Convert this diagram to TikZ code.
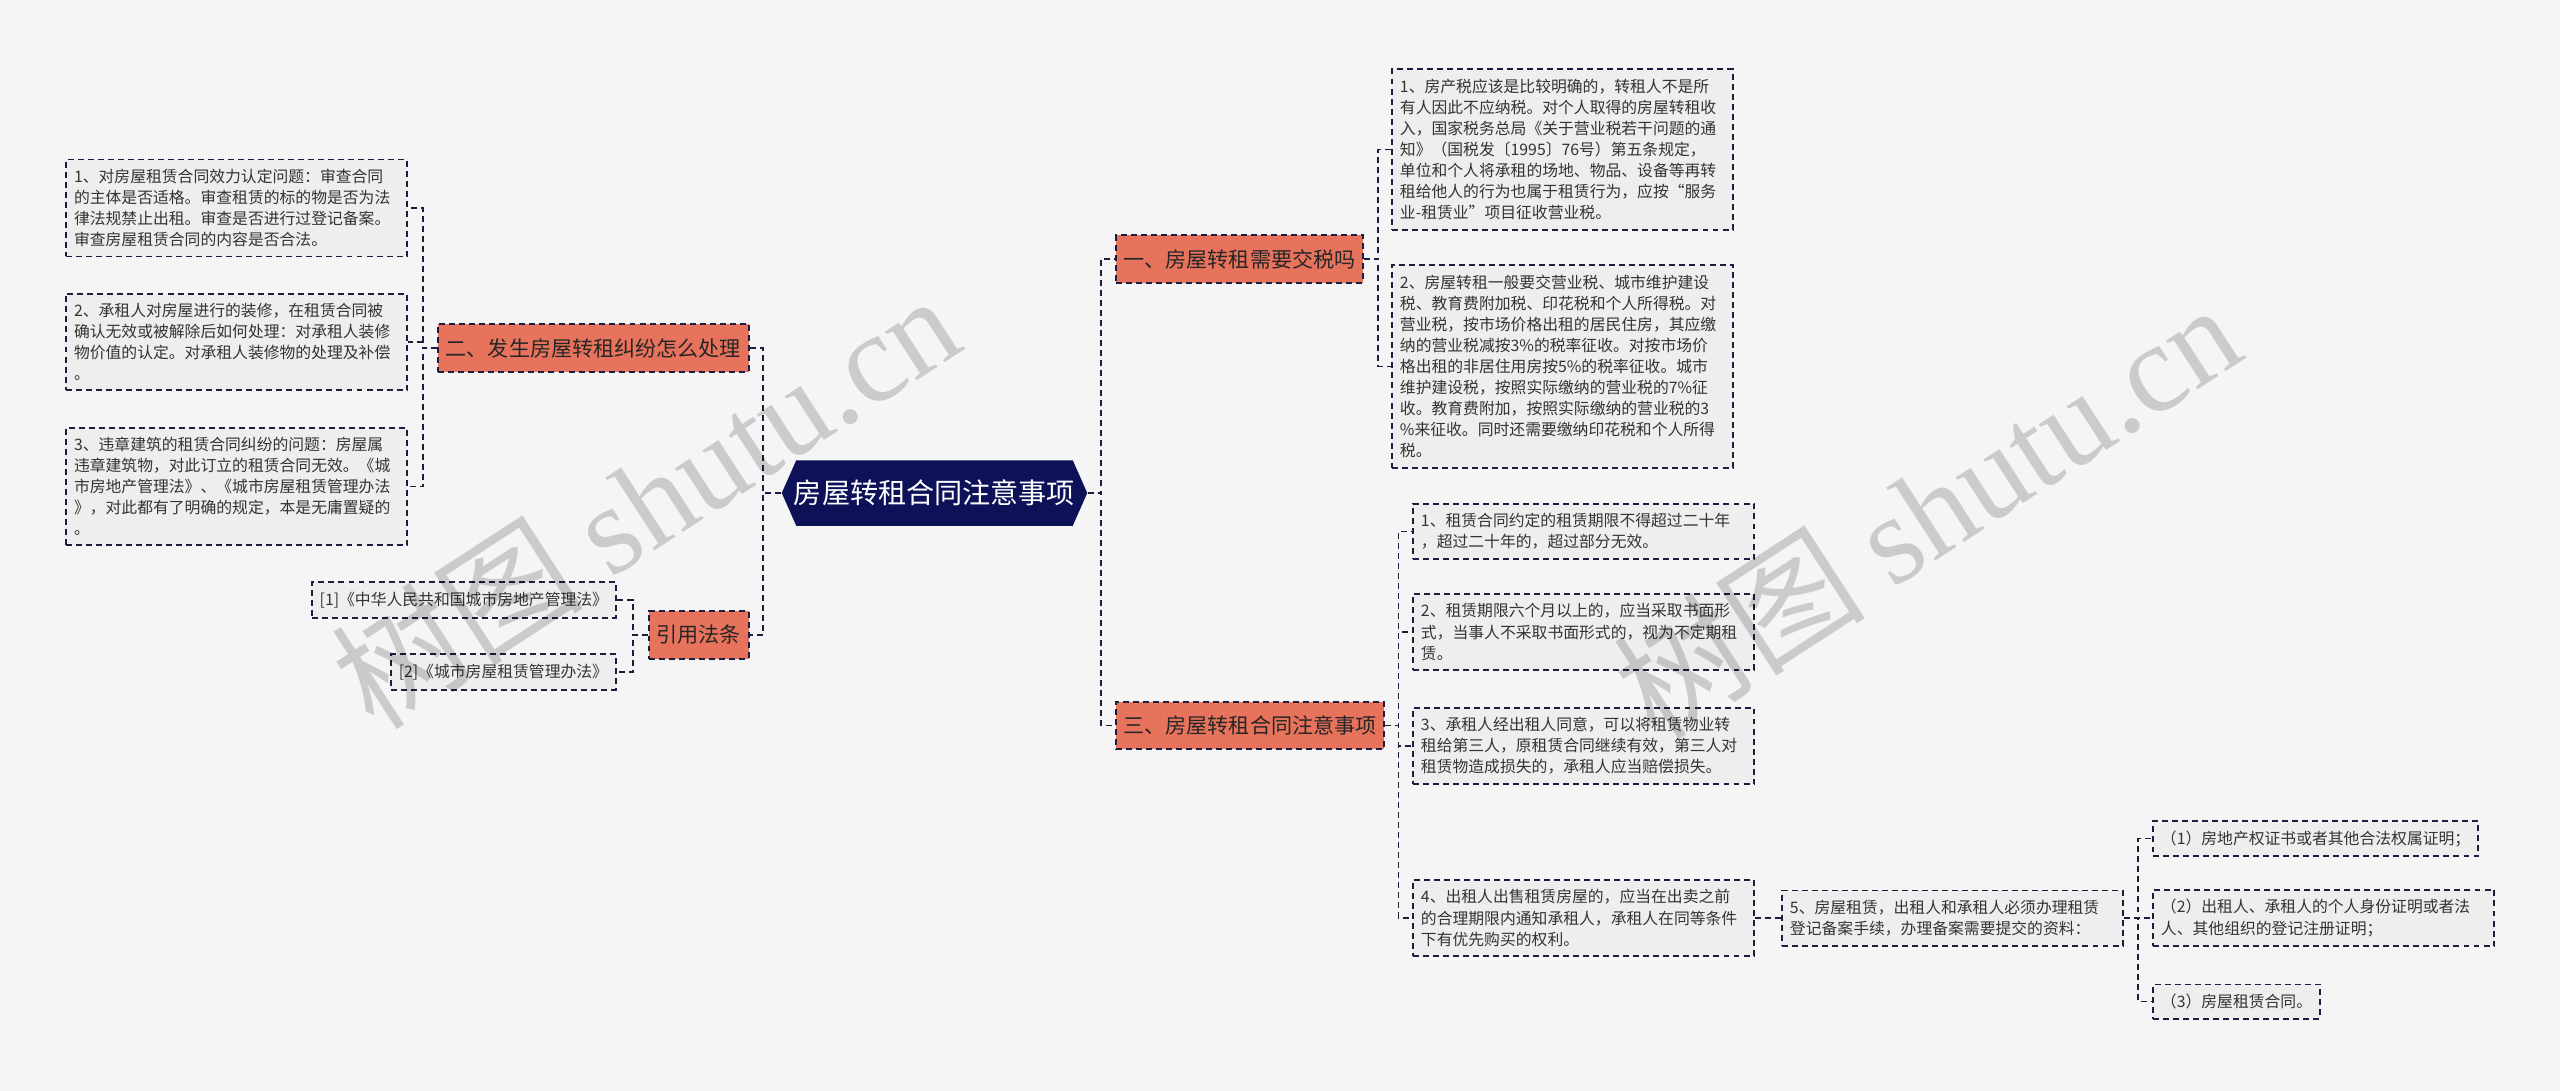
\documentclass[tikz,border=0pt]{standalone}
\usepackage{fontspec}
\setmainfont{Noto Sans CJK SC}
\newfontfamily\wmfont{Liberation Serif}
\usetikzlibrary{calc}
\usepackage{xcolor}

\definecolor{pagebg}{HTML}{F5F5F5}
\definecolor{navy}{HTML}{0D1158}
\definecolor{salmon}{HTML}{E8735C}
\definecolor{leafgray}{HTML}{EEEEEE}
\definecolor{linecol}{HTML}{1C1D3F}
\definecolor{txtgray}{HTML}{333333}

\begin{document}
\begin{tikzpicture}[
    every node/.style={inner sep=0pt},
    dashline/.style={draw=linecol, line width=1.1pt, dash pattern=on 3.4pt off 2.3pt},
    leaf/.style={dashline, fill=leafgray, text=txtgray, font=\fontsize{9}{12}\selectfont,
                 align=left, inner xsep=0.16cm, inner ysep=0.19cm},
    leafw/.style={leaf, text width=6.5cm},
    branch/.style={dashline, fill=salmon, text=black!85, font=\fontsize{12}{14}\selectfont,
                   inner xsep=0.15cm, minimum height=0.95cm},
    link/.style={dashline}
  ]
  \useasboundingbox (0,0) rectangle (51.2,-21.82);
  \fill[pagebg] (0,0) rectangle (51.2,-21.82);

  % central topic
  \fill[navy] (15.635,-9.86) -- (15.925,-9.205) -- (21.455,-9.205) -- (21.745,-9.86)
    -- (21.455,-10.515) -- (15.925,-10.515) -- cycle;
  \node[minimum width=6.11cm, minimum height=1.31cm, text=white,
        font=\fontsize{16}{18}\selectfont] (root) at (18.69,-9.86) {房屋转租合同注意事项};

  % main branches
  \node[branch, anchor=west] (b1) at (22.30,-5.18) {一、房屋转租需要交税吗};
  \node[branch, anchor=west] (b3) at (22.30,-14.51) {三、房屋转租合同注意事项};
  \node[branch, anchor=east] (b2) at (14.99,-6.96) {二、发生房屋转租纠纷怎么处理};
  \node[branch, anchor=east] (b4) at (14.99,-12.70) {引用法条};

  % left side leaves
  \node[leafw, anchor=east] (l1) at (8.16,-4.16) {1、对房屋租赁合同效力认定问题：审查合同\\的主体是否适格。审查租赁的标的物是否为法\\律法规禁止出租。审查是否进行过登记备案。\\审查房屋租赁合同的内容是否合法。};
  \node[leafw, anchor=east] (l2) at (8.16,-6.84) {2、承租人对房屋进行的装修，在租赁合同被\\确认无效或被解除后如何处理：对承租人装修\\物价值的认定。对承租人装修物的处理及补偿\\。};
  \node[leafw, anchor=east] (l3) at (8.16,-9.73) {3、违章建筑的租赁合同纠纷的问题：房屋属\\违章建筑物，对此订立的租赁合同无效。《城\\市房地产管理法》、《城市房屋租赁管理办法\\》，对此都有了明确的规定，本是无庸置疑的\\。};
  \node[leaf, anchor=east] (r1) at (12.34,-12.0) {[1]《中华人民共和国城市房地产管理法》};
  \node[leaf, anchor=east] (r2) at (12.34,-13.44) {[2]《城市房屋租赁管理办法》};

  % tax leaves
  \node[leafw, anchor=west] (t1) at (27.82,-2.99) {1、房产税应该是比较明确的，转租人不是所\\有人因此不应纳税。对个人取得的房屋转租收\\入，国家税务总局《关于营业税若干问题的通\\知》（国税发〔1995〕76号）第五条规定，\\单位和个人将承租的场地、物品、设备等再转\\租给他人的行为也属于租赁行为，应按“服务\\业-租赁业”项目征收营业税。};
  \node[leafw, anchor=west] (t2) at (27.82,-7.33) {2、房屋转租一般要交营业税、城市维护建设\\税、教育费附加税、印花税和个人所得税。对\\营业税，按市场价格出租的居民住房，其应缴\\纳的营业税减按3\%的税率征收。对按市场价\\格出租的非居住用房按5\%的税率征收。城市\\维护建设税，按照实际缴纳的营业税的7\%征\\收。教育费附加，按照实际缴纳的营业税的3\\\%来征收。同时还需要缴纳印花税和个人所得\\税。};

  % contract leaves
  \node[leafw, anchor=west] (c1) at (28.24,-10.63) {1、租赁合同约定的租赁期限不得超过二十年\\，超过二十年的，超过部分无效。};
  \node[leafw, anchor=west] (c2) at (28.24,-12.64) {2、租赁期限六个月以上的，应当采取书面形\\式，当事人不采取书面形式的，视为不定期租\\赁。};
  \node[leafw, anchor=west] (c3) at (28.24,-14.92) {3、承租人经出租人同意，可以将租赁物业转\\租给第三人，原租赁合同继续有效，第三人对\\租赁物造成损失的，承租人应当赔偿损失。};
  \node[leafw, anchor=west] (c4) at (28.24,-18.36) {4、出租人出售租赁房屋的，应当在出卖之前\\的合理期限内通知承租人，承租人在同等条件\\下有优先购买的权利。};
  \node[leafw, anchor=west] (c5) at (35.62,-18.36) {5、房屋租赁，出租人和承租人必须办理租赁\\登记备案手续，办理备案需要提交的资料：};
  \node[leaf, anchor=west] (d1) at (43.04,-16.77) {（1）房地产权证书或者其他合法权属证明；};
  \node[leafw, anchor=west] (d2) at (43.04,-18.36) {（2）出租人、承租人的个人身份证明或者法\\人、其他组织的登记注册证明；};
  \node[leaf, anchor=west] (d3) at (43.04,-20.03) {（3）房屋租赁合同。};

  % connectors
  \foreach \n in {b2,b4} \draw[link] (root.west) -- ++(-0.36,0) |- (\n.east);
  \foreach \n in {b1,b3} \draw[link] (root.east) -- ++(0.27,0) |- (\n.west);
  \foreach \n in {l1,l2,l3} \draw[link] (b2.west) -- ++(-0.29,0) |- (\n.east);
  \foreach \n in {r1,r2} \draw[link] (b4.west) -- ++(-0.31,0) |- (\n.east);
  \foreach \n in {t1,t2} \draw[link] (b1.east) -- ++(0.29,0) |- (\n.west);
  \foreach \n in {c1,c2,c3,c4} \draw[link] (b3.east) -- ++(0.27,0) |- (\n.west);
  \draw[link] (c4.east) -- (c5.west);
  \foreach \n in {d1,d2,d3} \draw[link] (c5.east) -- ++(0.29,0) |- (\n.west);

  % watermark
  \node[rotate=33, text=black, opacity=0.17, font=\fontsize{72}{72}\selectfont] (wm1)
    at (12.9,-10.0) {树图 {\wmfont shutu.cn}};
  \node[rotate=33, text=black, opacity=0.17, font=\fontsize{72}{72}\selectfont] (wm2)
    at (38.53,-10.19) {树图 {\wmfont shutu.cn}};
\end{tikzpicture}
\end{document}
